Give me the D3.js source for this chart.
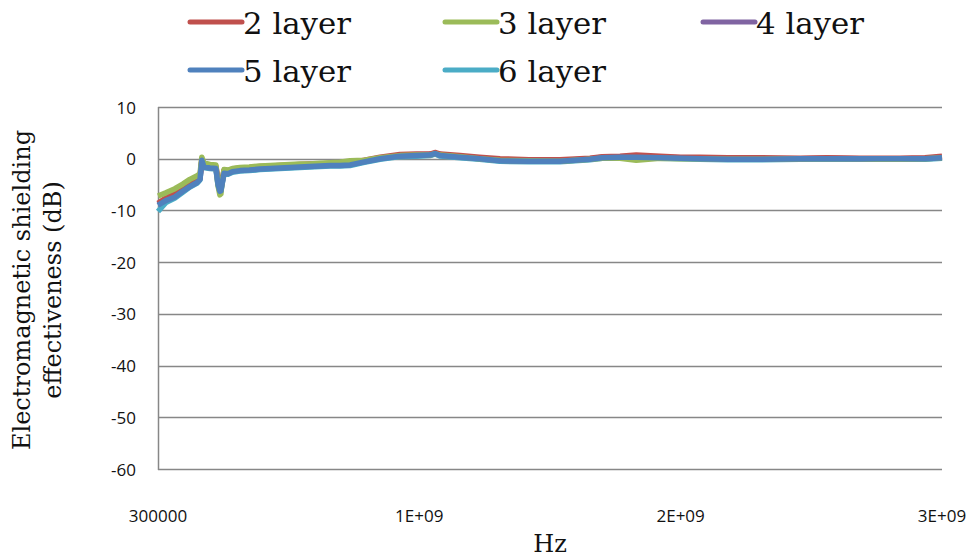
<!DOCTYPE html>
<html>
<head>
<meta charset="utf-8">
<script src="https://cdn.jsdelivr.net/npm/d3@7"></script>
<style>
  body { margin: 0; background: #fff; }
  svg { display: block; }
</style>
</head>
<body>
<div id="chart"></div>
<script>
//frequency points, in MHz
const freqs = [0.3, 30, 65, 95, 122, 150, 161, 168, 176, 199, 222, 230, 237, 241, 245, 253, 268, 285, 314, 350, 390, 430, 467, 505, 543, 580, 620, 660, 696, 735,
  790, 850, 926, 990, 1041, 1060, 1080, 1156, 1230, 1309, 1420, 1538, 1653, 1700, 1768, 1830, 1921, 2000, 2074, 2180, 2304, 2457, 2560, 2686, 2750, 2839, 2935, 3000];

const layer2 = [-8.6, -7.6, -6.8, -5.8, -4.8, -4.0, -3.5, -0.1, -1.1, -1.4, -1.5, -4.0, -6.0, -5.6, -4.2, -2.2, -2.3, -2.0, -1.8, -1.7, -1.5, -1.4, -1.3, -1.2, -1.1, -1.0, -1.0, -0.9, -0.9, -0.8,
  -0.3, 0.3, 0.8, 0.9, 0.9, 1.2, 0.9, 0.6, 0.3, 0.0, -0.2, -0.2, 0.1, 0.4, 0.5, 0.7, 0.5, 0.3, 0.3, 0.2, 0.2, 0.1, 0.2, 0.1, 0.1, 0.1, 0.2, 0.5];
const layer3 = [-7.2, -6.6, -5.8, -4.9, -4.0, -3.3, -2.9, 0.3, -0.8, -1.1, -1.2, -5.2, -7.0, -6.8, -4.6, -2.1, -2.2, -1.9, -1.7, -1.6, -1.4, -1.3, -1.2, -1.1, -1.0, -1.0, -0.9, -0.8, -0.7, -0.4,
  -0.3, 0.2, 0.6, 0.7, 0.7, 1.0, 0.7, 0.4, 0.0, -0.3, -0.4, -0.5, -0.1, 0.1, 0.1, -0.3, 0.1, 0.0, 0.0, -0.1, -0.1, 0.0, 0.0, 0.0, -0.1, -0.1, 0.0, 0.2];
const layer4 = [-8.8, -7.9, -7.1, -6.1, -5.2, -4.4, -3.8, -0.3, -1.4, -1.7, -1.8, -4.6, -6.2, -6.0, -4.8, -2.6, -2.7, -2.3, -2.1, -2.0, -1.8, -1.7, -1.6, -1.5, -1.4, -1.3, -1.2, -1.2, -1.2, -1.1,
  -0.5, 0.1, 0.6, 0.7, 0.8, 1.1, 0.8, 0.4, 0.1, -0.3, -0.4, -0.4, 0.0, 0.3, 0.4, 0.5, 0.3, 0.2, 0.1, 0.0, 0.0, 0.0, 0.1, 0.0, 0.0, 0.0, 0.1, 0.3];
const layer5 = [-9.0, -8.1, -7.4, -6.3, -5.4, -4.6, -4.0, -0.3, -1.6, -1.8, -1.9, -5.0, -6.3, -6.2, -5.0, -2.8, -2.9, -2.5, -2.3, -2.2, -2.0, -1.9, -1.8, -1.7, -1.6, -1.5, -1.4, -1.3, -1.3, -1.2,
  -0.6, 0.0, 0.5, 0.6, 0.7, 1.0, 0.6, 0.3, 0.0, -0.4, -0.5, -0.5, -0.1, 0.2, 0.3, 0.3, 0.2, 0.1, 0.0, -0.1, -0.1, 0.0, 0.0, 0.0, 0.0, 0.0, 0.0, 0.2];
const layer6 = [-10.2, -8.5, -7.6, -6.5, -5.5, -4.7, -4.1, -0.4, -1.7, -1.9, -2.0, -5.1, -6.4, -6.3, -5.1, -2.9, -3.0, -2.6, -2.4, -2.3, -2.1, -2.0, -1.9, -1.8, -1.7, -1.6, -1.5, -1.4, -1.4, -1.3,
  -0.7, -0.1, 0.4, 0.5, 0.6, 0.9, 0.5, 0.2, -0.1, -0.5, -0.6, -0.6, -0.2, 0.1, 0.2, 0.2, 0.1, 0.0, -0.1, -0.2, -0.2, -0.1, -0.1, -0.1, -0.1, -0.1, -0.1, 0.1];

const seriesNames = ["2 layer", "3 layer", "4 layer", "5 layer", "6 layer"];
const seriesColors = ["#c0504d", "#9bbb59", "#8064a2", "#4f81bd", "#4bacc6"];
const seriesValues = [layer2, layer3, layer4, layer5, layer6];
const drawOrder = [4, 2, 0, 1, 3]; //blue ends up on top

const yTicks = [10, 0, -10, -20, -30, -40, -50, -60];
const xTicks = [0.3, 1000, 2000, 3000];
const xTickLabels = ["300000", "1E+09", "2E+09", "3E+09"];

const width = 976, height = 557;
const margin = { left: 158, right: 34, top: 107, bottom: 88 };

const svg = d3.select("#chart").append("svg")
  .attr("width", width)
  .attr("height", height);

const x = d3.scaleLinear().domain([0.3, 3000]).range([margin.left, width - margin.right]);
const y = d3.scaleLinear().domain([-60, 10]).range([height - margin.bottom, margin.top]);

//gridlines
svg.append("g")
  .selectAll("line")
  .data(yTicks)
  .join("line")
  .attr("x1", margin.left)
  .attr("x2", width - margin.right)
  .attr("y1", d => Math.round(y(d)) + 0.5)
  .attr("y2", d => Math.round(y(d)) + 0.5)
  .attr("stroke", "#878787")
  .attr("stroke-width", 1.5);

//left axis line
svg.append("line")
  .attr("x1", margin.left + 0.5).attr("x2", margin.left + 0.5)
  .attr("y1", y(10)).attr("y2", y(-60) + 1)
  .attr("stroke", "#878787")
  .attr("stroke-width", 1.5);

//y tick labels
svg.append("g")
  .selectAll("text")
  .data(yTicks)
  .join("text")
  .attr("x", 136)
  .attr("y", d => y(d))
  .attr("text-anchor", "end")
  .attr("dominant-baseline", "central")
  .attr("font-family", "'Open Sans', 'Liberation Sans', sans-serif")
  .attr("font-size", 17)
  .attr("fill", "#111")
  .text(d => d);

//x tick labels
svg.append("g")
  .selectAll("text")
  .data(xTicks)
  .join("text")
  .attr("x", d => x(d))
  .attr("y", 515)
  .attr("text-anchor", "middle")
  .attr("dominant-baseline", "central")
  .attr("font-family", "'Open Sans', 'Liberation Sans', sans-serif")
  .attr("font-size", 17)
  .attr("fill", "#111")
  .text((d, i) => xTickLabels[i]);

//axis titles
svg.append("text")
  .attr("x", 550)
  .attr("y", 552)
  .attr("text-anchor", "middle")
  .attr("font-family", "'DejaVu Serif', serif")
  .attr("font-size", 24)
  .attr("fill", "#111")
  .text("Hz");

const yTitle = svg.append("text")
  .attr("transform", "translate(0,290) rotate(-90)")
  .attr("text-anchor", "middle")
  .attr("font-family", "'DejaVu Serif', serif")
  .attr("font-size", 24)
  .attr("fill", "#111");
yTitle.append("tspan").attr("x", 0).attr("y", 30).text("Electromagnetic shielding");
yTitle.append("tspan").attr("x", 0).attr("y", 61).text("effectiveness (dB)");

//lines
const line = d3.line()
  .x(d => x(d[0]))
  .y(d => y(d[1]));

drawOrder.forEach(i => {
  const pts = freqs.map((f, k) => [f, seriesValues[i][k]]);
  svg.append("path")
    .datum(pts)
    .attr("fill", "none")
    .attr("stroke", seriesColors[i])
    .attr("stroke-width", 5.5)
    .attr("stroke-linejoin", "round")
    .attr("d", line);
});

//legend
const legendPos = [[190, 22], [445, 22], [703, 22], [190, 70], [445, 70]];
seriesNames.forEach((name, i) => {
  const [lx, ly] = legendPos[i];
  svg.append("line")
    .attr("x1", lx).attr("x2", lx + 52)
    .attr("y1", ly).attr("y2", ly)
    .attr("stroke", seriesColors[i])
    .attr("stroke-width", 5)
    .attr("stroke-linecap", "round");
  svg.append("text")
    .attr("x", lx + 53)
    .attr("y", ly + 12)
    .attr("font-family", "'DejaVu Serif', serif")
    .attr("font-size", 29)
    .attr("textLength", 108)
    .attr("lengthAdjust", "spacingAndGlyphs")
    .attr("fill", "#111")
    .text(name);
});
</script>
</body>
</html>
